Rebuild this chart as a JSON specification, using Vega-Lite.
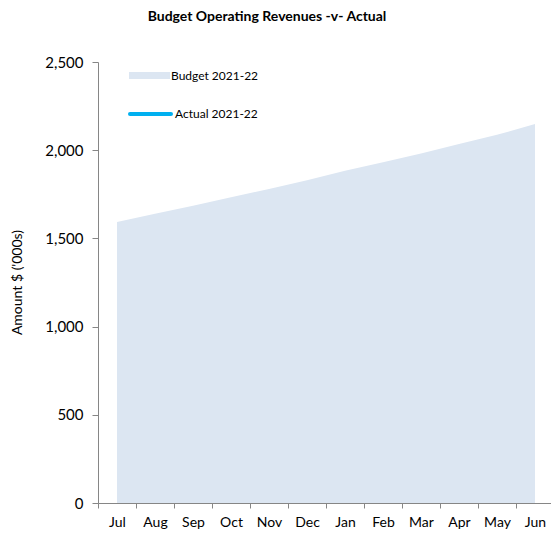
{
  "$schema": "https://vega.github.io/schema/vega-lite/v6.json",
  "autosize": {"type": "none"},
  "width": 456,
  "height": 441,
  "padding": {"left": 98, "top": 62, "right": 0, "bottom": 32},
  "background": "white",
  "title": {
    "text": "Budget Operating Revenues -v- Actual",
    "font": "Lato",
    "fontSize": 14,
    "fontWeight": "bold",
    "color": "black",
    "anchor": "middle",
    "dx": -59,
    "offset": 31
  },
  "data": {
    "values": [
      {"month": "Jul", "budget": 1593, "actual": null},
      {"month": "Aug", "budget": 1640, "actual": null},
      {"month": "Sep", "budget": 1685, "actual": null},
      {"month": "Oct", "budget": 1733, "actual": null},
      {"month": "Nov", "budget": 1780, "actual": null},
      {"month": "Dec", "budget": 1830, "actual": null},
      {"month": "Jan", "budget": 1883, "actual": null},
      {"month": "Feb", "budget": 1932, "actual": null},
      {"month": "Mar", "budget": 1982, "actual": null},
      {"month": "Apr", "budget": 2035, "actual": null},
      {"month": "May", "budget": 2087, "actual": null},
      {"month": "Jun", "budget": 2148, "actual": null}
    ]
  },
  "encoding": {
    "x": {
      "field": "month",
      "type": "ordinal",
      "sort": null,
      "bandPosition": 0.5,
      "scale": {"type": "band", "paddingInner": 0, "paddingOuter": 0},
      "axis": {
        "title": null,
        "labelAngle": 0,
        "tickBand": "extent",
        "tickSize": 5,
        "labelPadding": 7,
        "labelFontSize": 14
      }
    }
  },
  "layer": [
    {
      "mark": {"type": "area", "opacity": 1, "interpolate": "linear"},
      "encoding": {
        "y": {
          "field": "budget",
          "type": "quantitative",
          "scale": {"domain": [0, 2500], "nice": false},
          "axis": {
            "title": "Amount $ ('000s)",
            "values": [0, 500, 1000, 1500, 2000, 2500],
            "format": ",.0f",
            "grid": false,
            "tickSize": 6,
            "labelPadding": 9,
            "labelFontSize": 15,
            "titleFont": "Lato",
            "titleFontSize": 14,
            "titleFontWeight": "normal",
            "titleX": -81,
            "titleY": 220,
            "titleAngle": -90,
            "titleAlign": "center",
            "titleBaseline": "middle"
          }
        },
        "fill": {
          "datum": "Budget 2021-22",
          "type": "nominal",
          "scale": {"range": ["#dce6f2"]},
          "legend": {
            "orient": "none",
            "legendX": 31,
            "legendY": -7,
            "title": null,
            "padding": 0,
            "symbolType": "M-1,-0.17H1V0.17H-1Z",
            "symbolSize": 1681,
            "symbolStrokeWidth": 0,
            "symbolOpacity": 1,
            "labelOffset": 1
          }
        }
      }
    },
    {
      "mark": {"type": "line", "strokeWidth": 4, "strokeCap": "round"},
      "encoding": {
        "y": {"field": "actual", "type": "quantitative"},
        "stroke": {
          "datum": "Actual 2021-22",
          "type": "nominal",
          "scale": {"range": ["#00b0f0"]},
          "legend": {
            "orient": "none",
            "legendX": 30,
            "legendY": 29.5,
            "title": null,
            "padding": 0,
            "symbolType": "stroke",
            "symbolSize": 1681,
            "symbolStrokeWidth": 4,
            "labelOffset": 2,
            "encode": {"symbols": {"update": {"strokeCap": {"value": "round"}}}}
          }
        }
      }
    }
  ],
  "config": {
    "view": {"stroke": null},
    "font": "Lato",
    "axis": {
      "domainColor": "#868686",
      "tickColor": "#868686",
      "labelColor": "black",
      "labelFont": "Lato",
      "titleColor": "black"
    },
    "legend": {"labelFont": "Lato", "labelFontSize": 12, "labelColor": "black"}
  }
}
